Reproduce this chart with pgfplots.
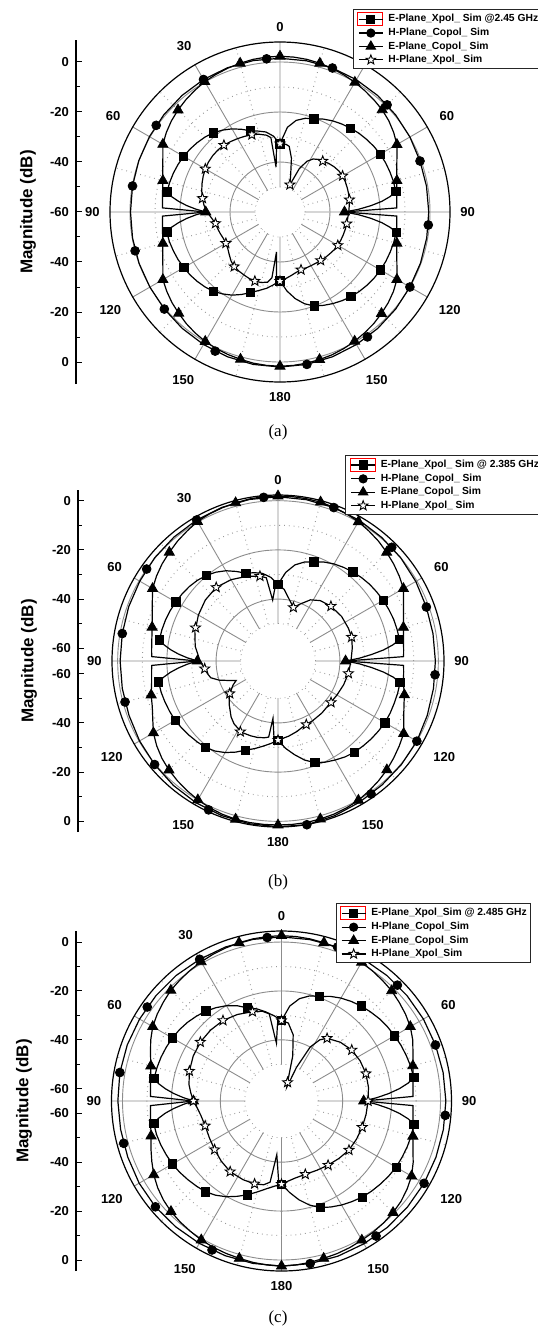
\documentclass[border=0pt]{standalone}
\usepackage{fontspec}
\setmainfont{Liberation Sans}
\newfontfamily\capfont{Liberation Serif}
\usepackage{pgfplots}
\usepgfplotslibrary{polar}
\usetikzlibrary{plotmarks}
\pgfplotsset{compat=1.18}
\newcommand\tickfont{\fontsize{6.5}{7}\selectfont\bfseries}
\newcommand\labfont{\fontsize{8.5}{9}\selectfont\bfseries}
\newcommand\legfont{\fontsize{5.15}{6}\selectfont\bfseries}
\pgfdeclareplotmark{ostar}{%
  \pgfpathmoveto{\pgfpointpolar{90}{\pgfplotmarksize}}%
  \pgfpathlineto{\pgfpointpolar{126}{0.42\pgfplotmarksize}}%
  \pgfpathlineto{\pgfpointpolar{162}{\pgfplotmarksize}}%
  \pgfpathlineto{\pgfpointpolar{198}{0.42\pgfplotmarksize}}%
  \pgfpathlineto{\pgfpointpolar{234}{\pgfplotmarksize}}%
  \pgfpathlineto{\pgfpointpolar{270}{0.42\pgfplotmarksize}}%
  \pgfpathlineto{\pgfpointpolar{306}{\pgfplotmarksize}}%
  \pgfpathlineto{\pgfpointpolar{342}{0.42\pgfplotmarksize}}%
  \pgfpathlineto{\pgfpointpolar{18}{\pgfplotmarksize}}%
  \pgfpathlineto{\pgfpointpolar{54}{0.42\pgfplotmarksize}}%
  \pgfpathclose
  \pgfusepathqfillstroke}
\pgfplotsset{
  legend image code/.code={\path (-1pt,0pt) (14pt,0pt);\draw[mark repeat=2,mark phase=2,#1] plot coordinates {(0pt,0pt) (6pt,0pt) (12pt,0pt)};},
  pol/.style={scale only axis, clip=false, xmin=0, xmax=360,
    x filter/.code={\pgfmathparse{90-##1}},
    xtick={0,30,...,330}, minor xtick={15,45,...,345},
    xticklabels={90,60,30,0,30,60,90,120,150,180,150,120},
    ytick={-40,-20,0}, minor ytick={-50,-30,-10}, yticklabels={},
    grid=both,
    major grid style={black!45, line width=0.45pt},
    minor grid style={black!40, dotted, line width=0.5pt},
    major tick length=0pt, minor tick length=0pt,
    xticklabel style={font=\tickfont, inner sep=5pt},
    x axis line style={black, line width=0.6pt},
    y axis line style={draw=none},
    legend cell align=left,
    legend style={draw=black!85, line width=0.5pt, fill=white, font=\legfont, anchor=north west,
      inner xsep=1.5pt, inner ysep=1.2pt, row sep=0.4pt,
      nodes={inner sep=0.5pt, text height=4pt, text depth=1.3pt}},
  },
  lft/.style={scale only axis, width=2pt, xmin=0, xmax=1, axis x line=none, axis y line=left,
    y axis line style={-, line width=0.6pt, black}, tick align=inside,
    major tick length=3pt, minor tick length=1.8pt, tick style={black, line width=0.5pt},
    yticklabel style={font=\tickfont}, ylabel={Magnitude (dB)}},
  ln/.style={black, line width=0.6pt, no marks, forget plot},
  msq/.style={black, only marks, mark=square*, mark size=2.1pt, forget plot},
  mci/.style={black, only marks, mark=*, mark size=2.2pt, forget plot},
  mtr/.style={black, only marks, mark=triangle*, mark size=2.9pt, forget plot},
  mst/.style={black, only marks, mark=ostar, mark size=2.6pt, mark options={fill=white, line width=0.45pt}, forget plot},
  lgsq/.style={black, line width=0.6pt, mark=square*, mark size=2pt},
  lgci/.style={black, line width=0.6pt, mark=*, mark size=2pt},
  lgtr/.style={black, line width=0.6pt, mark=triangle*, mark size=2.6pt},
  lgst/.style={black, line width=0.6pt, mark=ostar, mark size=2.5pt, mark options={fill=white, line width=0.45pt}},
  redbox/.style={legend image code/.code={\path (-1pt,0pt) (14pt,0pt);\draw[red, line width=0.45pt] (-0.5pt,-3.2pt) rectangle (12pt,3.2pt);
     \draw[mark repeat=2,mark phase=2,##1] plot coordinates {(0pt,0pt) (6pt,0pt) (12pt,0pt)};}},
}
\begin{document}
\begin{tikzpicture}
% ================= (a) =================
\begin{polaraxis}[pol, at={(140pt,-106pt)}, anchor=center, width=170pt, height=170pt,
  y coord trafo/.code={\pgfmathparse{#1+60}}, y coord inv trafo/.code={\pgfmathparse{#1-60}},
  ymin=-60, ymax=8, legend style={at={(0.714,1.096)}}]
\node[circle, fill=white, inner sep=0pt, minimum size=24.6pt] at (axis cs:0,-60) {};
\addlegendimage{lgsq, redbox}\addlegendentry{E-Plane\_Xpol\_ Sim @2.45 GHz}
\addlegendimage{lgci}\addlegendentry{H-Plane\_Copol\_ Sim}
\addlegendimage{lgtr}\addlegendentry{E-Plane\_Copol\_ Sim}
\addlegendimage{lgst}\addlegendentry{H-Plane\_Xpol\_ Sim}
% E-plane Xpol
\addplot[ln] coordinates {(-180,-32.5)(-175,-30.8)(-170,-29.0)(-165,-27.5)(-160,-25.7)(-155,-23.6)(-150,-21.6)(-145,-20.0)(-140,-18.6)(-135,-17.6)(-130,-16.8)(-125,-16.1)(-120,-15.6)(-115,-15.0)(-110,-14.6)(-105,-14.2)(-100,-14.0)(-98,-16.2)(-96,-19.2)(-94,-22.5)(-92,-26.2)(-90,-30.3)(-88,-26.2)(-86,-22.5)(-84,-19.2)(-82,-16.3)(-80,-14.1)(-75,-14.3)(-70,-14.6)(-65,-15.0)(-60,-15.5)(-55,-16.1)(-50,-16.8)(-45,-17.6)(-40,-18.6)(-35,-20.0)(-30,-21.6)(-25,-23.5)(-20,-25.4)(-15,-26.5)(-10,-27.5)(-5,-29.5)(0,-32.7)(5,-26.0)(10,-22.8)(15,-21.2)(20,-20.3)(25,-19.0)(30,-17.9)(35,-17.0)(40,-16.2)(45,-15.4)(50,-14.8)(55,-14.2)(60,-13.7)(65,-13.4)(70,-13.2)(75,-13.0)(80,-13.0)(82,-15.5)(84,-19.0)(86,-23.5)(88,-28.5)(90,-34.2)(92,-28.5)(94,-23.5)(96,-19.0)(98,-15.4)(100,-12.8)(105,-12.9)(110,-13.1)(115,-13.3)(120,-13.6)(125,-14.0)(130,-14.5)(135,-15.1)(140,-15.8)(145,-16.7)(150,-17.7)(155,-18.8)(160,-20.0)(165,-22.0)(170,-24.8)(175,-28.3)(180,-32.5)};
\addplot[msq] coordinates {(-160,-25.7)(-140,-18.6)(-120,-15.6)(-100,-14.0)(-80,-14.1)(-60,-15.5)(-40,-18.6)(-20,-25.4)(0,-32.7)(20,-20.3)(40,-16.2)(60,-13.7)(80,-13.0)(100,-12.8)(120,-13.6)(140,-15.8)(160,-20.0)(180,-32.5)};
% H-plane Copol
\addplot[ln] coordinates {(-180,2.0)(-170,1.9)(-160,1.6)(-150,1.2)(-140,0.8)(-130,0.4)(-120,0.1)(-110,0.0)(-100,-0.1)(-90,-0.2)(-80,-0.1)(-70,0.1)(-60,0.3)(-50,0.6)(-40,0.9)(-30,1.2)(-20,1.4)(-10,1.5)(0,1.5)(10,1.4)(20,1.3)(30,1.1)(40,0.8)(50,0.4)(60,0.0)(70,-0.4)(80,-0.5)(90,-0.5)(100,-0.4)(110,-0.2)(120,0.0)(130,0.4)(140,0.8)(150,1.2)(160,1.6)(170,1.9)(180,2.0)};
\addplot[mci] coordinates {(-155,1.4)(-130,0.4)(-105,0.0)(-80,-0.1)(-55,0.45)(-30,1.2)(-5,1.5)(20,1.3)(45,0.6)(70,-0.4)(95,-0.45)(120,0.0)(145,1.0)(170,1.9)};
% E-plane Copol
\addplot[ln] coordinates {(-180,1.7)(-175,1.6)(-170,1.4)(-165,1.0)(-160,0.7)(-155,0.3)(-150,-0.2)(-145,-0.9)(-140,-1.7)(-135,-2.7)(-130,-3.6)(-125,-4.7)(-120,-5.9)(-115,-8.3)(-110,-10.1)(-105,-11.5)(-100,-12.3)(-95,-12.8)(-92,-13.0)(-90,-30.3)(-88,-13.0)(-85,-12.8)(-80,-12.3)(-75,-11.5)(-70,-10.1)(-65,-8.3)(-60,-5.9)(-55,-4.5)(-50,-3.3)(-45,-2.3)(-40,-1.4)(-35,-0.6)(-30,0.2)(-25,0.7)(-20,1.2)(-15,1.6)(-10,2.0)(-5,2.2)(0,2.3)(5,2.2)(10,2.0)(15,1.6)(20,1.1)(25,0.5)(30,-0.1)(35,-0.8)(40,-1.5)(45,-2.2)(50,-3.2)(55,-4.5)(60,-6.0)(65,-8.4)(70,-10.3)(75,-11.6)(80,-12.6)(85,-13.1)(88,-13.3)(90,-34.2)(92,-13.3)(95,-13.1)(100,-12.6)(105,-11.6)(110,-10.3)(115,-8.4)(120,-6.0)(125,-4.6)(130,-3.5)(135,-2.6)(140,-1.7)(145,-1.0)(150,-0.3)(155,0.3)(160,0.8)(165,1.1)(170,1.4)(175,1.6)(180,1.7)};
\addplot[mtr] coordinates {(-165,1.0)(-150,-0.2)(-135,-2.7)(-120,-5.9)(-105,-11.5)(-90,-30.3)(-75,-11.5)(-60,-5.9)(-45,-2.3)(-30,0.2)(-15,1.6)(0,2.3)(15,1.6)(30,-0.1)(45,-2.2)(60,-6.0)(75,-11.6)(90,-34.2)(105,-11.6)(120,-6.0)(135,-2.6)(150,-0.3)(165,1.1)(180,1.7)};
% H-plane Xpol
\addplot[ln] coordinates {(-180,-32.3)(-177,-33.0)(-175,-44.0)(-173,-33.5)(-170,-31.5)(-165,-30.8)(-160,-30.6)(-155,-30.7)(-150,-31.0)(-145,-31.2)(-140,-31.5)(-135,-32.3)(-130,-33.5)(-125,-34.5)(-120,-35.0)(-115,-35.0)(-110,-34.6)(-105,-34.2)(-100,-33.8)(-95,-32.5)(-90,-30.8)(-85,-29.5)(-80,-28.5)(-75,-27.6)(-70,-26.8)(-65,-26.1)(-60,-25.5)(-55,-25.1)(-50,-24.9)(-45,-24.9)(-40,-25.1)(-35,-25.6)(-30,-26.1)(-25,-26.6)(-20,-27.1)(-15,-27.8)(-10,-28.8)(-7,-30.0)(-5,-42.0)(-3,-33.5)(0,-32.7)(5,-32.8)(8,-33.5)(12,-38.0)(16,-44.5)(20,-48.4)(24,-41.0)(28,-37.0)(32,-35.0)(36,-34.0)(40,-33.4)(45,-32.5)(50,-31.8)(55,-31.3)(60,-31.1)(65,-31.2)(70,-31.4)(75,-31.6)(80,-31.8)(85,-32.2)(90,-32.5)(95,-32.8)(100,-32.9)(105,-33.0)(110,-33.1)(115,-33.2)(120,-33.3)(125,-33.6)(130,-34.0)(135,-34.3)(140,-34.7)(145,-35.0)(150,-35.2)(155,-35.3)(160,-35.4)(165,-35.0)(170,-34.2)(175,-33.3)(180,-32.3)};
\addplot[mst] coordinates {(-160,-30.6)(-140,-31.5)(-120,-35.0)(-100,-33.8)(-80,-28.5)(-60,-25.5)(-40,-25.1)(-20,-27.1)(0,-32.7)(20,-48.4)(40,-33.4)(60,-31.1)(80,-31.8)(100,-32.9)(120,-33.3)(140,-34.7)(160,-35.4)(180,-32.3)};
\end{polaraxis}
\begin{axis}[lft, at={(38pt,-106pt)}, anchor=west, height=172pt, ymin=-68.8, ymax=68.8,
  ytick={-60,-40,-20,0,20,40,60}, yticklabels={0,-20,-40,-60,-40,-20,0},
  minor ytick={-50,-30,-10,10,30,50},
  ylabel style={at={(axis description cs:-12,0.5)}, anchor=center, font=\labfont}]
\end{axis}
\node[font={\capfont\fontsize{8.5}{10}\selectfont}] at (139pt,-216pt) {(a)};
% ================= (b) =================
\begin{polaraxis}[pol, at={(139pt,-330.5pt)}, anchor=center, width=166pt, height=166pt,
  y coord trafo/.code={\pgfmathparse{#1+65.16}}, y coord inv trafo/.code={\pgfmathparse{#1-65.16}},
  ymin=-65.16, ymax=2.3, legend style={at={(0.702,1.120)}}]
\node[circle, fill=white, inner sep=0pt, minimum size=36.8pt] at (axis cs:0,-65.16) {};
\addlegendimage{lgsq, redbox}\addlegendentry{E-Plane\_Xpol\_ Sim @ 2.385 GHz}
\addlegendimage{lgci}\addlegendentry{H-Plane\_Copol\_ Sim}
\addlegendimage{lgtr}\addlegendentry{E-Plane\_Copol\_ Sim}
\addlegendimage{lgst}\addlegendentry{H-Plane\_Xpol\_ Sim}
\addplot[ln] coordinates {(-180,-33.0)(-175,-31.5)(-170,-30.0)(-165,-28.3)(-160,-26.6)(-155,-24.3)(-150,-22.2)(-145,-20.5)(-140,-19.3)(-135,-18.7)(-130,-18.1)(-125,-17.5)(-120,-16.9)(-115,-16.6)(-110,-16.3)(-105,-16.0)(-100,-15.9)(-98,-18.3)(-96,-21.2)(-94,-24.6)(-92,-28.3)(-90,-32.4)(-88,-28.3)(-86,-24.6)(-84,-21.3)(-82,-18.5)(-80,-16.2)(-75,-16.3)(-70,-16.5)(-65,-16.8)(-60,-17.2)(-55,-17.6)(-50,-18.1)(-45,-18.8)(-40,-19.8)(-35,-21.1)(-30,-22.8)(-25,-25.0)(-20,-27.2)(-15,-28.0)(-10,-29.0)(-5,-31.0)(0,-34.0)(5,-29.0)(10,-25.5)(15,-23.5)(20,-22.3)(25,-20.8)(30,-19.6)(35,-18.7)(40,-17.9)(45,-17.2)(50,-16.6)(55,-16.2)(60,-15.8)(65,-15.5)(70,-15.2)(75,-15.1)(80,-15.0)(82,-18.0)(84,-22.0)(86,-27.0)(88,-32.0)(90,-37.7)(92,-32.0)(94,-27.0)(96,-22.0)(98,-17.8)(100,-14.8)(105,-14.8)(110,-14.9)(115,-14.9)(120,-15.0)(125,-15.4)(130,-15.8)(135,-16.3)(140,-16.8)(145,-17.6)(150,-18.7)(155,-19.8)(160,-21.2)(165,-23.5)(170,-26.5)(175,-29.5)(180,-33.0)};
\addplot[msq] coordinates {(-160,-26.6)(-140,-19.3)(-120,-16.9)(-100,-15.9)(-80,-16.2)(-60,-17.2)(-40,-19.8)(-20,-27.2)(0,-34.0)(20,-22.3)(40,-17.9)(60,-15.8)(80,-15.0)(100,-14.8)(120,-15.0)(140,-16.8)(160,-21.2)(180,-33.0)};
\addplot[ln] coordinates {(-180,2.2)(-170,2.0)(-160,1.7)(-150,1.4)(-140,0.9)(-130,0.3)(-120,-0.2)(-110,-0.7)(-100,-0.9)(-90,-1.0)(-80,-0.9)(-70,-0.6)(-60,-0.3)(-50,0.2)(-40,0.6)(-30,1.0)(-20,1.3)(-10,1.5)(0,1.6)(10,1.4)(20,1.2)(30,0.9)(40,0.4)(50,0.0)(60,-0.5)(70,-1.0)(80,-1.2)(90,-1.2)(100,-1.0)(110,-0.6)(120,0.0)(130,0.3)(140,0.6)(150,1.1)(160,1.8)(170,2.4)(180,2.2)};
\addplot[mci] coordinates {(-155,1.6)(-130,0.3)(-105,-0.8)(-80,-0.9)(-55,0.0)(-30,1.0)(-5,1.6)(20,1.2)(45,0.2)(70,-1.0)(95,-1.1)(120,0.0)(145,0.8)(170,2.4)};
\addplot[ln] coordinates {(-180,1.5)(-175,1.5)(-170,1.5)(-165,1.4)(-160,1.1)(-155,0.6)(-150,0.0)(-145,-0.8)(-140,-1.6)(-135,-2.5)(-130,-3.6)(-125,-5.0)(-120,-6.7)(-115,-9.0)(-110,-10.8)(-105,-11.8)(-100,-13.0)(-95,-13.6)(-92,-13.8)(-90,-32.4)(-88,-13.8)(-85,-13.6)(-80,-13.1)(-75,-12.2)(-70,-10.8)(-65,-8.8)(-60,-6.3)(-55,-4.9)(-50,-3.7)(-45,-2.7)(-40,-1.6)(-35,-0.7)(-30,0.3)(-25,0.8)(-20,1.1)(-15,1.4)(-10,1.7)(-5,1.9)(0,1.9)(5,1.9)(10,1.8)(15,1.7)(20,1.3)(25,0.8)(30,0.2)(35,-0.7)(40,-1.6)(45,-2.7)(50,-3.8)(55,-5.0)(60,-6.3)(65,-8.9)(70,-10.9)(75,-12.4)(80,-13.4)(85,-13.9)(88,-14.1)(90,-37.7)(92,-14.1)(95,-13.9)(100,-13.4)(105,-12.0)(110,-10.7)(115,-8.8)(120,-6.2)(125,-5.0)(130,-3.8)(135,-2.6)(140,-1.6)(145,-0.7)(150,0.2)(155,0.7)(160,1.1)(165,1.3)(170,1.5)(175,1.5)(180,1.5)};
\addplot[mtr] coordinates {(-165,1.4)(-150,0.0)(-135,-2.5)(-120,-6.7)(-105,-11.8)(-90,-32.4)(-75,-12.2)(-60,-6.3)(-45,-2.7)(-30,0.3)(-15,1.4)(0,1.9)(15,1.7)(30,0.2)(45,-2.7)(60,-6.3)(75,-12.4)(90,-37.7)(105,-12.0)(120,-6.2)(135,-2.6)(150,0.2)(165,1.3)(180,1.5)};
\addplot[ln] coordinates {(-180,-33.0)(-177,-34.0)(-175,-41.8)(-173,-34.0)(-170,-33.5)(-165,-33.0)(-160,-32.8)(-153,-32.6)(-145,-34.0)(-140,-35.5)(-132,-38.5)(-125,-41.0)(-118,-44.5)(-115,-46.4)(-112,-44.0)(-108,-40.0)(-104,-37.0)(-100,-36.0)(-97,-35.4)(-90,-33.5)(-80,-31.0)(-70,-29.2)(-67,-29.0)(-60,-27.8)(-50,-26.6)(-40,-26.1)(-30,-27.0)(-20,-28.5)(-12,-29.9)(-8,-31.0)(-5,-40.3)(-2,-34.5)(0,-34.0)(5,-36.0)(10,-39.5)(16,-42.5)(22,-40.0)(28,-37.0)(35,-35.2)(44,-34.2)(55,-33.6)(65,-33.6)(72,-33.7)(80,-34.5)(90,-35.5)(100,-36.1)(110,-36.8)(120,-37.5)(129,-37.9)(140,-37.5)(150,-37.1)(157,-36.9)(165,-35.5)(172,-34.3)(180,-33.0)};
\addplot[mst] coordinates {(-180,-33.0)(-152,-32.6)(-124,-41.5)(-96,-35.2)(-68,-29.0)(-40,-26.1)(-12,-29.9)(16,-42.5)(44,-34.2)(72,-33.7)(100,-36.1)(128,-37.8)(156,-36.9)};
\end{polaraxis}
\begin{axis}[lft, at={(39pt,-330.5pt)}, anchor=west, height=171pt, ymin=-69.5, ymax=69.5,
  ytick={-65.16,-45.16,-25.16,-5.16,5.16,25.16,45.16,65.16}, yticklabels={0,-20,-40,-60,-60,-40,-20,0},
  minor ytick={-55.16,-35.16,-15.16,15.16,35.16,55.16},
  ylabel style={at={(axis description cs:-12.25,0.5)}, anchor=center, font=\labfont}]
\end{axis}
\node[font={\capfont\fontsize{8.5}{10}\selectfont}] at (139pt,-441pt) {(b)};
% ================= (c) =================
\begin{polaraxis}[pol, at={(140.75pt,-550.5pt)}, anchor=center, width=170pt, height=170pt,
  y coord trafo/.code={\pgfmathparse{#1+65}}, y coord inv trafo/.code={\pgfmathparse{#1-65}},
  ymin=-65, ymax=4.5, legend style={at={(0.659,1.081)}}]
\node[circle, fill=white, inner sep=0pt, minimum size=36.2pt] at (axis cs:0,-65) {};
\addlegendimage{lgsq, redbox}\addlegendentry{E-Plane\_Xpol\_Sim @ 2.485 GHz}
\addlegendimage{lgci}\addlegendentry{H-Plane\_Copol\_Sim}
\addlegendimage{lgtr}\addlegendentry{E-Plane\_Copol\_Sim}
\addlegendimage{lgst}\addlegendentry{H-Plane\_Xpol\_Sim}
\addplot[ln] coordinates {(-180,-31.0)(-175,-30.0)(-170,-28.5)(-165,-26.5)(-160,-24.2)(-155,-22.0)(-150,-19.8)(-145,-18.0)(-140,-16.6)(-135,-15.8)(-130,-15.0)(-125,-14.2)(-120,-13.5)(-115,-13.0)(-110,-12.5)(-105,-12.1)(-100,-12.0)(-98,-14.2)(-96,-17.2)(-94,-20.8)(-92,-24.8)(-90,-29.0)(-88,-24.8)(-86,-20.8)(-84,-17.3)(-82,-14.3)(-80,-12.1)(-75,-12.3)(-70,-12.6)(-65,-13.0)(-60,-13.5)(-55,-14.1)(-50,-14.9)(-45,-15.9)(-40,-17.0)(-35,-18.4)(-30,-20.0)(-25,-22.0)(-20,-24.5)(-15,-26.0)(-10,-28.0)(-5,-30.0)(0,-32.1)(5,-26.0)(10,-22.5)(15,-20.5)(20,-19.5)(25,-17.8)(30,-16.4)(35,-15.3)(40,-14.3)(45,-13.5)(50,-12.7)(55,-12.1)(60,-11.6)(65,-11.1)(70,-10.7)(75,-10.3)(80,-10.1)(82,-12.8)(84,-16.5)(86,-21.0)(88,-26.0)(90,-31.4)(92,-26.0)(94,-21.0)(96,-16.5)(98,-12.7)(100,-10.0)(105,-10.1)(110,-10.3)(115,-10.6)(120,-10.9)(125,-11.5)(130,-12.2)(135,-12.9)(140,-13.7)(145,-14.8)(150,-15.9)(155,-17.2)(160,-18.6)(165,-21.0)(170,-24.0)(175,-27.5)(180,-31.0)};
\addplot[msq] coordinates {(-160,-24.2)(-140,-16.6)(-120,-13.5)(-100,-12.0)(-80,-12.1)(-60,-13.5)(-40,-17.0)(-20,-24.5)(0,-32.1)(20,-19.5)(40,-14.3)(60,-11.6)(80,-10.1)(100,-10.0)(120,-10.9)(140,-13.7)(160,-18.6)(180,-31.0)};
\addplot[ln] coordinates {(-180,2.5)(-170,2.4)(-160,2.3)(-150,2.2)(-140,2.2)(-130,2.3)(-120,2.2)(-110,1.9)(-100,1.8)(-90,1.9)(-80,2.1)(-70,2.1)(-60,2.0)(-50,2.0)(-40,2.0)(-30,1.9)(-20,2.0)(-10,2.1)(0,2.1)(10,2.0)(20,2.0)(30,2.0)(40,2.0)(50,2.0)(60,2.0)(70,2.0)(80,2.1)(90,2.2)(100,2.2)(110,2.2)(120,2.3)(130,2.3)(140,2.4)(150,2.4)(160,2.5)(170,2.5)(180,2.5)};
\addplot[mci] coordinates {(-155,2.2)(-130,2.3)(-105,1.8)(-80,2.1)(-55,2.0)(-30,1.9)(-5,2.1)(20,2.0)(45,2.0)(70,2.0)(95,2.2)(120,2.3)(145,2.4)(170,2.5)};
\addplot[ln] coordinates {(-180,2.5)(-175,2.3)(-170,2.0)(-165,1.6)(-160,1.3)(-155,1.0)(-150,0.6)(-145,0.0)(-140,-0.5)(-135,-1.1)(-130,-2.0)(-125,-3.2)(-120,-4.7)(-115,-6.5)(-110,-8.2)(-105,-9.8)(-100,-10.7)(-95,-11.2)(-92,-11.4)(-90,-29.0)(-88,-11.4)(-85,-11.2)(-80,-10.7)(-75,-9.7)(-70,-8.0)(-65,-6.0)(-60,-4.2)(-55,-3.0)(-50,-2.0)(-45,-1.0)(-40,-0.4)(-35,0.2)(-30,0.7)(-25,1.2)(-20,1.6)(-15,2.0)(-10,2.3)(-5,2.5)(0,2.6)(5,2.5)(10,2.3)(15,2.0)(20,1.6)(25,1.1)(30,0.5)(35,-0.1)(40,-0.7)(45,-1.3)(50,-2.2)(55,-3.1)(60,-4.2)(65,-5.8)(70,-7.8)(75,-9.4)(80,-10.4)(85,-11.0)(88,-11.2)(90,-31.4)(92,-11.2)(95,-11.0)(100,-10.4)(105,-9.4)(110,-7.8)(115,-5.6)(120,-3.6)(125,-2.3)(130,-1.2)(135,-0.5)(140,0.0)(145,0.4)(150,0.7)(155,1.1)(160,1.4)(165,1.6)(170,2.0)(175,2.3)(180,2.5)};
\addplot[mtr] coordinates {(-165,1.6)(-150,0.6)(-135,-1.1)(-120,-4.7)(-105,-9.8)(-90,-29.0)(-75,-9.7)(-60,-4.2)(-45,-1.0)(-30,0.7)(-15,2.0)(0,2.6)(15,2.0)(30,0.5)(45,-1.3)(60,-4.2)(75,-9.4)(90,-31.4)(105,-9.4)(120,-3.6)(135,-0.5)(150,0.7)(165,1.6)(180,2.5)};
\addplot[ln] coordinates {(-180,-31.0)(-178,-32.0)(-175,-43.0)(-172,-31.5)(-168,-30.0)(-162,-29.4)(-154,-29.2)(-144,-29.3)(-135,-30.2)(-126,-31.2)(-117,-31.9)(-108,-32.2)(-100,-31.5)(-95,-30.5)(-90,-29.0)(-85,-27.8)(-80,-26.6)(-72,-25.4)(-63,-24.5)(-54,-24.0)(-45,-24.0)(-36,-24.3)(-27,-25.3)(-18,-26.6)(-12,-27.5)(-8,-29.0)(-5,-41.3)(-3,-33.5)(0,-32.1)(5,-33.0)(10,-37.5)(14,-46.0)(18,-57.0)(21,-59.0)(24,-50.0)(28,-40.0)(32,-35.5)(36,-33.3)(45,-31.0)(54,-29.5)(63,-28.9)(72,-28.7)(81,-29.0)(90,-29.6)(99,-30.0)(108,-30.3)(117,-30.6)(126,-30.9)(135,-31.8)(144,-32.6)(153,-33.2)(162,-33.5)(170,-33.0)(176,-32.0)(180,-31.0)};
\addplot[mst] coordinates {(-162,-29.4)(-144,-29.3)(-126,-31.2)(-108,-32.2)(-90,-29.0)(-72,-25.4)(-54,-24.0)(-36,-24.3)(-18,-26.6)(0,-32.1)(18,-57.0)(36,-33.3)(54,-29.5)(72,-28.7)(90,-29.6)(108,-30.3)(126,-30.9)(144,-32.6)(162,-33.5)(180,-31.0)};
\end{polaraxis}
\begin{axis}[lft, at={(38pt,-550.5pt)}, anchor=west, height=170pt, ymin=-69.5, ymax=69.5,
  ytick={-65,-45,-25,-5,5,25,45,65}, yticklabels={0,-20,-40,-60,-60,-40,-20,0},
  minor ytick={-55,-35,-15,15,35,55},
  ylabel style={at={(axis description cs:-13,0.5)}, anchor=center, font=\labfont}]
\end{axis}
\node[font={\capfont\fontsize{8.5}{10}\selectfont}] at (139pt,-659pt) {(c)};
\pgfresetboundingbox
\path[use as bounding box] (0pt,0pt) rectangle (268.5pt,-666pt);
\end{tikzpicture}
\end{document}
